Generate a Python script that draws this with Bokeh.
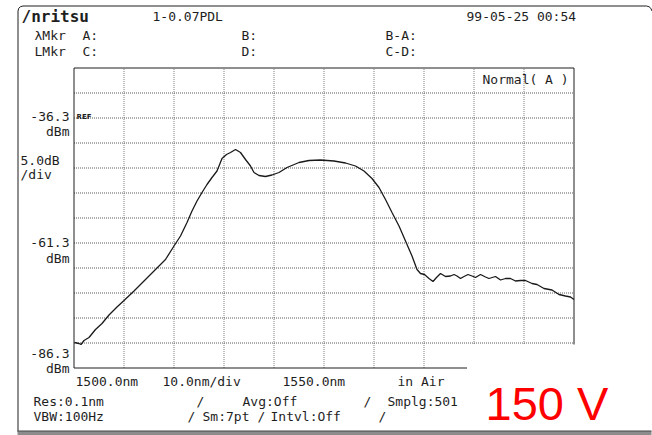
from bokeh.plotting import figure
from bokeh.models import Range1d
from bokeh.core.properties import value
from bokeh.embed import file_html
from bokeh.resources import INLINE

# ---- measured trace: wavelength (nm) and power (dBm) ----
wavelength_nm = [
    1500.1, 1501.0, 1501.4, 1502.0, 1503.0, 1504.3, 1505.6, 1507.0, 1508.6, 1510.0,
    1512.0, 1514.0, 1516.3, 1518.3, 1520.0, 1521.3, 1522.6, 1523.6, 1524.6, 1525.6,
    1526.6, 1527.6, 1528.6, 1529.6, 1530.5, 1531.3, 1532.3, 1533.3, 1534.3, 1535.3,
    1536.0, 1537.0, 1538.3, 1539.6, 1541.0, 1542.6, 1545.0, 1547.0, 1549.3, 1552.0,
    1554.3, 1556.3, 1558.0, 1559.6, 1561.0, 1562.3, 1563.6, 1565.0, 1566.3, 1567.6,
    1568.6, 1569.3, 1570.1, 1571.0, 1571.8, 1572.5, 1573.3, 1574.3, 1575.3, 1576.0,
    1576.6, 1577.3, 1578.0, 1578.8, 1579.6, 1580.3, 1581.3, 1582.3, 1583.0, 1584.3,
    1585.3, 1586.3, 1587.3, 1588.3, 1589.3, 1590.3, 1591.6, 1592.6, 1594.0, 1595.6,
    1597.0, 1598.3, 1599.3, 1600.0,
]
power_dbm = [
    -81.2, -81.4, -81.6, -80.8, -80.2, -78.6, -77.4, -75.7, -74.1, -72.8,
    -70.9, -68.9, -66.6, -64.6, -61.9, -59.9, -57.2, -54.9, -52.9, -51.2,
    -49.6, -48.2, -46.9, -44.4, -43.6, -43.2, -42.6, -43.2, -44.6, -45.9,
    -47.2, -47.8, -48.0, -47.7, -47.2, -46.2, -45.2, -44.8, -44.7, -44.9,
    -45.3, -45.9, -46.9, -48.4, -50.2, -52.6, -55.2, -57.9, -60.9, -63.9,
    -66.6, -67.4, -67.6, -68.4, -69.0, -68.2, -67.4, -68.0, -67.9, -67.6,
    -67.9, -68.4, -68.0, -67.6, -67.9, -68.2, -67.6, -68.1, -68.4, -68.0,
    -68.7, -68.4, -68.4, -68.9, -68.8, -68.8, -69.4, -69.6, -70.4, -70.7,
    -71.6, -71.9, -72.1, -72.6,
]

# ---- grid divisions and scale labels ----
x_grid_nm = [1500, 1510, 1520, 1530, 1540, 1550, 1560, 1570, 1580, 1590, 1600]
y_grid_dbm = [-86.3, -81.3, -76.3, -71.3, -66.3, -61.3, -56.3, -51.3, -46.3,
              -41.3, -36.3, -31.3, -26.3]
y_tick_values = [-36.3, -61.3, -86.3]
y_tick_labels = ["-36.3", "-61.3", "-86.3"]
x_tick_labels = ["1500.0nm", "10.0nm/div", "1550.0nm", "in Air"]

# ---- screen layout (canvas pixels) ----
W, H = 652, 435
FL, FR, FT, FB = 73.5, 573.5, 67.5, 367.5
X0, X1 = x_grid_nm[0], x_grid_nm[-1]
Y0, Y1 = y_grid_dbm[0], y_grid_dbm[-1]
kx = (FR - FL) / (X1 - X0)
ky = (FB - FT) / (Y1 - Y0)


def px(x):
    return X0 + (x - FL) / kx


def py(y):
    return Y1 - (y - FT) / ky


p = figure(width=W, height=H, toolbar_location=None, output_backend="svg",
           x_range=Range1d(px(0), px(W)), y_range=Range1d(py(H), py(0)),
           x_axis_location=None, y_axis_location=None, min_border=0)
p.grid.visible = False
p.outline_line_color = None
p.background_fill_color = "white"
p.border_fill_color = "white"

INK = "#1e1e1e"

# dotted graticule
for xv in x_grid_nm[1:-1]:
    p.line([xv, xv], [Y0, Y1], line_color="#808080", line_width=1, line_dash="1 1")
for yv in y_grid_dbm[1:-1]:
    p.line([X0, X1], [yv, yv], line_color="#5a5a5a", line_width=1, line_dash="1 1")

# screen frame
p.line([X0, X1], [Y1, Y1], line_color=INK, line_width=1)
p.line([X0, X0], [Y0, Y1], line_color=INK, line_width=1)
p.line([X1, X1], [Y0, Y1], line_color=INK, line_width=1)
p.line([X0, X1], [Y0, Y0], line_color=INK, line_width=1)

# trace
p.line(wavelength_nm, power_dbm, line_color="#1a1a1a", line_width=1.3)

# blank panel at the lower right
p.quad(left=[px(466.5)], right=[px(W)], top=[py(344)], bottom=[py(H)],
       fill_color="white", line_color=None)

# outer bezel
bx = [17.5, 17.5, 18.2, 20.0, 22.5, 646.0, 648.5, 650.3, 651.5]
by = [431.0, 10.5, 7.8, 6.2, 5.5, 5.5, 6.2, 7.8, 10.5]
p.line([px(v) for v in bx], [py(v) for v in by], line_color=INK, line_width=1)
p.quad(left=[px(17)], right=[px(651)], top=[py(430.5)], bottom=[py(435)],
       fill_color="#8c8c8c", line_color=None)
p.line([px(17), px(651)], [py(430.5), py(430.5)], line_color="#444444", line_width=1)

MONO = value("DejaVu Sans Mono")


def put(items, size="13px", align="left", font=MONO, color=INK, style="normal",
        baseline="middle"):
    p.text(x=[px(a) for a, _, _ in items], y=[py(b) for _, b, _ in items],
           text=[t for _, _, t in items], text_font=font, text_font_size=size,
           text_align=align, text_baseline=baseline, text_color=color,
           text_font_style=style)


# header
put([(21, 16, "/nritsu")], size="16px", style="bold")
put([(152, 16, "1-0.07PDL"), (466, 16, "99-05-25 00:54"),
     (34, 35, "λMkr"), (82, 35, "A:"), (241, 35, "B:"), (385, 35, "B-A:"),
     (34, 51, "LMkr"), (82, 51, "C:"), (241, 51, "D:"), (385, 51, "C-D:")])
put([(482, 79, "Normal( A )")])

# level scale
ty = [FT + (Y1 - v) * ky for v in y_tick_values]
put([(69, ty[0] - 2, y_tick_labels[0]), (69, ty[0] + 13, "dBm"),
     (69, ty[1] - 1, y_tick_labels[1]), (69, ty[1] + 15, "dBm"),
     (69, ty[2] - 15, y_tick_labels[2]), (69, ty[2], "dBm")], align="right")
put([(20, 160, "5.0dB"), (20, 174, "/div")])
put([(76, ty[0] - 1, "REF")], size="7px", font=value("DejaVu Sans"), style="bold")

# wavelength scale and settings
put([(75, 381, x_tick_labels[0]), (162, 381, x_tick_labels[1]),
     (282, 381, x_tick_labels[2]), (397, 381, x_tick_labels[3]),
     (33, 401, "Res:0.1nm"), (196, 401, "/"), (242, 401, "Avg:Off"),
     (363, 401, "/"), (387, 401, "Smplg:501"),
     (33, 416, "VBW:100Hz"), (187, 416, "/"), (202, 416, "Sm:7pt"),
     (257, 416, "/"), (270, 416, "Intvl:Off"), (378, 416, "/")])

# voltage tag
put([(485, 403, "150 V")], size="47px", font=value("Liberation Sans"),
    color="#ff0000", baseline="alphabetic")

open("out.html", "w").write(file_html(p, INLINE))
